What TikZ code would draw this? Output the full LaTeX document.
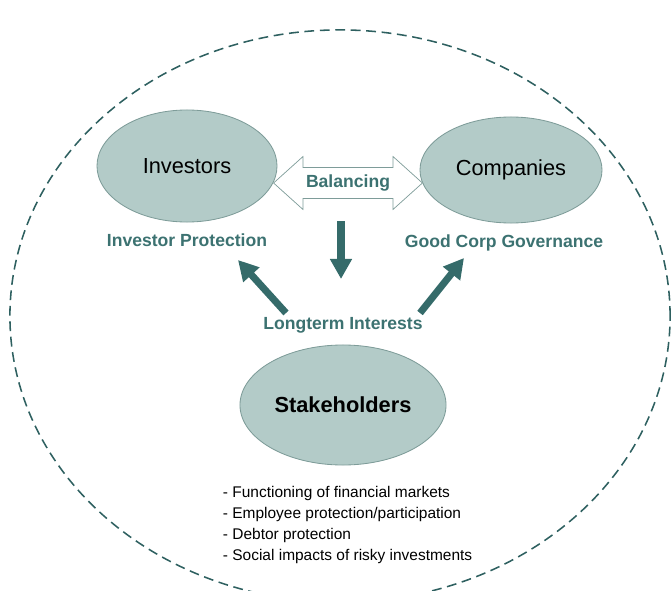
\documentclass[tikz,border=0pt]{standalone}
\usepackage{fontspec}
\setmainfont{Liberation Sans}
\usetikzlibrary{arrows.meta,shapes.arrows,shapes.geometric}
\definecolor{blobfill}{HTML}{B3CBC8}
\definecolor{blobline}{HTML}{7E9C99}
\definecolor{tealtext}{HTML}{3C7271}
\definecolor{tealarrow}{HTML}{356B6A}
\definecolor{dashline}{HTML}{2E6060}

\begin{document}
\begin{tikzpicture}[x=0.025cm, y=-0.025cm,
    blob/.style={ellipse, draw=blobline, fill=blobfill, line width=0.6pt, inner sep=0pt,
        font=\fontsize{15.5}{18}\selectfont},
    tag/.style={text=tealtext, font=\fontsize{12.5}{15}\bfseries\selectfont},
    fat/.style={draw=tealarrow, line width=5pt,
        -{Triangle[width=0.52cm, length=0.5cm]}}
]
    \useasboundingbox (0, 0) rectangle (671, 591);

    % outer frame
    \begin{scope}
        \clip (0, 0) rectangle (671, 591);
        \draw [dashline, line width=1.1pt, dash pattern=on 7pt off 4pt]
            (340, 316) ellipse [x radius=8.25cm, y radius=7.15cm];
    \end{scope}

    % the three parties
    \node [blob, minimum width=4.5cm, minimum height=2.8cm] (investors) at (187, 166) {Investors};
    \node [blob, minimum width=4.55cm, minimum height=2.65cm] (companies) at (511, 170) {Companies};
    \node [blob, minimum width=5.15cm, minimum height=3cm] (stakeholders) at (343, 405)
        {\textbf{Stakeholders}};

    % balancing
    \node [double arrow, draw=blobline, fill=white, line width=0.5pt,
        minimum width=1.32cm, minimum height=3.72cm, inner sep=0pt,
        double arrow head extend=0.15cm, double arrow tip angle=84,
        tag] (balancing) at (348, 183) {Balancing};

    % labels
    \draw
        node [tag] (protection) at (187, 240) {Investor Protection}
        node [tag] (governance) at (504, 243) {Good Corp Governance}
        node [tag] (longterm) at (343, 325) {Longterm Interests}
    ;
    \node [anchor=north west, align=left, font=\fontsize{11}{15}\selectfont] (concerns) at (218, 481)
        {- Functioning of financial markets\\
         - Employee protection/participation\\
         - Debtor protection\\
         - Social impacts of risky investments};

    %% arrows
    \coordinate (downstart) at (341, 221);
    \coordinate (downend) at (341, 279);
    \coordinate (leftstart) at (286, 313);
    \coordinate (leftend) at (238, 260);
    \coordinate (rightstart) at (420, 313);
    \coordinate (rightend) at (464, 258);
    \draw [fat] (downstart) -- (downend);
    \draw [fat] (leftstart) -- (leftend);
    \draw [fat] (rightstart) -- (rightend);
\end{tikzpicture}
\end{document}
